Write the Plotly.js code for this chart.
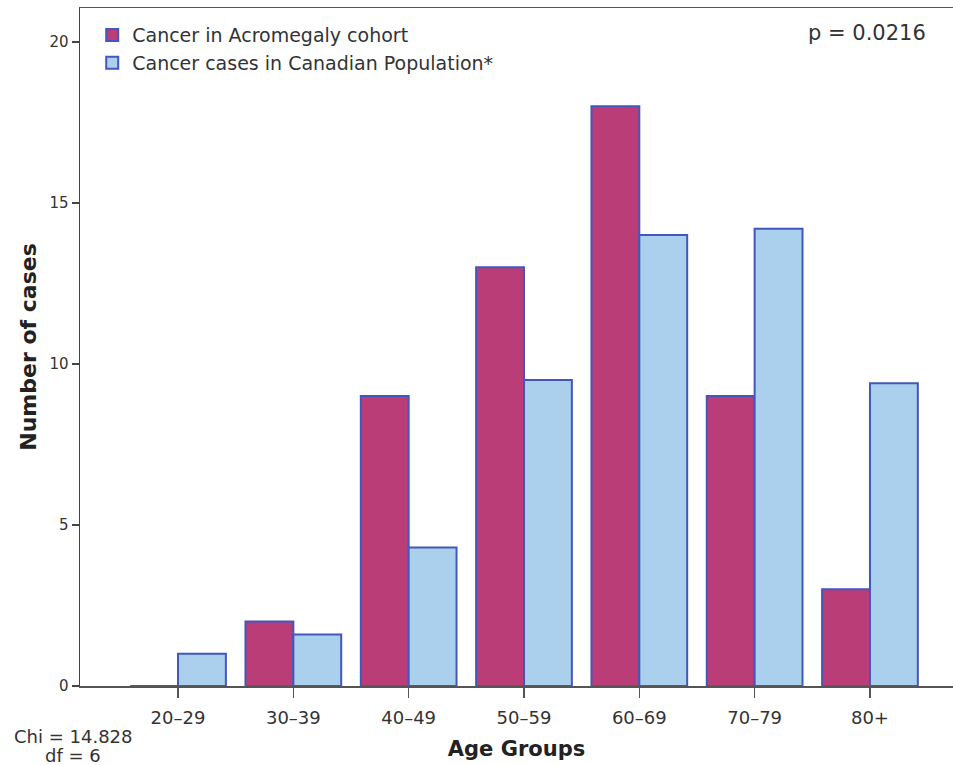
<!DOCTYPE html>
<html>
<head>
<meta charset="utf-8">
<script src="https://cdn.plot.ly/plotly-3.0.1.min.js"></script>
<style>html,body{margin:0;padding:0;background:#fff;}#chart{width:953px;height:765px;}</style>
</head>
<body>
<div id="chart"></div>
<script>
const ageGroups = ["20–29", "30–39", "40–49", "50–59", "60–69", "70–79", "80+"];
const acromegalyCancer = [0, 2, 9, 13, 18, 9, 3];
const canadianPopulation = [1.0, 1.6, 4.3, 9.5, 14.0, 14.2, 9.4];
const seriesNames = ["Cancer in Acromegaly cohort", "Cancer cases in Canadian Population*"];
const yTicks = [0, 5, 10, 15, 20];

const fontFam = "DejaVu Sans, Arial, sans-serif";
const outline = {color: "#4257bc", width: 2};

const traces = [
  {type: "bar", name: seriesNames[0], x: ageGroups, y: acromegalyCancer,
   marker: {color: "#bb3d78", line: outline}},
  {type: "bar", name: seriesNames[1], x: ageGroups, y: canadianPopulation,
   marker: {color: "#abd0ee", line: outline}}
];

const layout = {
  width: 953, height: 765,
  margin: {l: 80, r: 0, t: 8, b: 79},
  paper_bgcolor: "#fff", plot_bgcolor: "#fff",
  barmode: "group", bargap: 0.17, bargroupgap: 0,
  font: {family: fontFam, color: "#333"},
  showlegend: true,
  legend: {x: 0.014, y: 0.988, xanchor: "left", yanchor: "top",
           font: {size: 19, color: "#333", family: fontFam},
           bgcolor: "rgba(0,0,0,0)", tracegroupgap: 0, itemwidth: 30},
  xaxis: {type: "category", range: [-0.85, 6.72],
          showline: true, linecolor: "#555", linewidth: 1.5, mirror: true,
          ticks: "outside", ticklen: 10, tickcolor: "#555", tickwidth: 1.5,
          ticklabelstandoff: 5,
          tickfont: {size: 18, color: "#333"}, showgrid: false, zeroline: false,
          title: {text: "<b>Age Groups</b>", font: {size: 21, color: "#222"}, standoff: 14}},
  yaxis: {range: [0, 21.05], tickvals: yTicks, ticktext: yTicks.map(String),
          showline: true, linecolor: "#444", linewidth: 1.5,
          ticks: "outside", ticklen: 7, tickcolor: "#444", tickwidth: 1.5,
          tickfont: {size: 15, color: "#333"}, showgrid: false, zeroline: false,
          title: {text: "<b>Number of cases</b>", font: {size: 22, color: "#222"}, standoff: 6}},
  annotations: [
    {xref: "paper", yref: "paper", x: 0.9015, y: 0.963, xanchor: "center", yanchor: "middle",
     text: "p = 0.0216", showarrow: false, font: {size: 21, color: "#333"}},
    {xref: "paper", yref: "paper", x: -0.008, y: -0.0752, xanchor: "center", yanchor: "middle",
     text: "Chi = 14.828", showarrow: false, font: {size: 18, color: "#333"}},
    {xref: "paper", yref: "paper", x: -0.008, y: -0.103, xanchor: "center", yanchor: "middle",
     text: "df = 6", showarrow: false, font: {size: 18, color: "#333"}}
  ]
};

Plotly.newPlot("chart", traces, layout, {displayModeBar: false, staticPlot: true});
</script>
</body>
</html>
